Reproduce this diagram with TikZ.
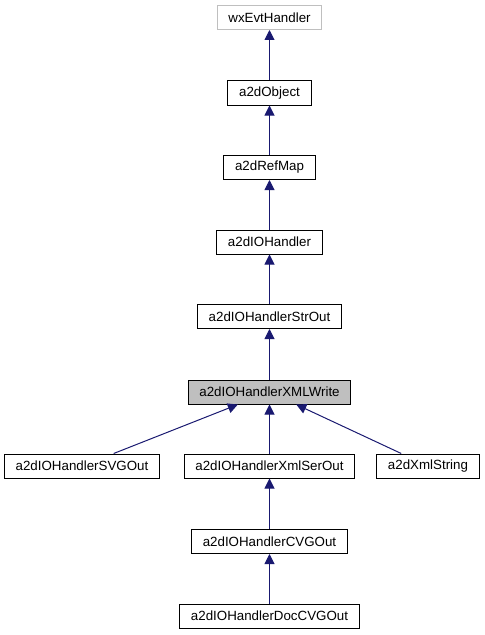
\documentclass[tikz,border=0pt]{standalone}
\usepackage{fontspec}
\setmainfont{Liberation Sans}
\usetikzlibrary{arrows.meta}
\definecolor{kante}{RGB}{25,25,112}
\definecolor{grau}{RGB}{191,191,191}
\definecolor{aktiv}{RGB}{191,191,191}
\tikzset{
	klasse/.style={draw, line width=0.75pt, fill=white, font=\fontsize{10pt}{12pt}\selectfont,
		inner xsep=8.5pt, inner ysep=0pt, minimum height=18pt},
	erbt/.style={draw=kante, line width=0.75pt, -{Triangle[length=7.5pt,width=7.5pt]}}
}
\begin{document}
\begin{tikzpicture}[x=0.75pt, y=-0.75pt]
\useasboundingbox (0,0) rectangle (485,635);
% Klassen:
	\node [klasse, draw=grau] (wxevt) at (269.5,17.5) {wxEvtHandler};
	\node [klasse] (obj) at (269.5,93) {a2dObject};
	\node [klasse] (refmap) at (269.5,167.5) {a2dRefMap};
	\node [klasse] (io) at (269.5,242) {a2dIOHandler};
	\node [klasse] (strout) at (269.5,316.5) {a2dIOHandlerStrOut};
	\node [klasse, fill=aktiv] (xmlw) at (269.5,392) {a2dIOHandlerXMLWrite};
	\node [klasse] (svg) at (82,466) {a2dIOHandlerSVGOut};
	\node [klasse] (xmlser) at (269.5,466) {a2dIOHandlerXmlSerOut};
	\node [klasse] (xmlstr) at (428,466) {a2dXmlString};
	\node [klasse] (cvg) at (269.5,541.5) {a2dIOHandlerCVGOut};
	\node [klasse] (doccvg) at (269.5,616) {a2dIOHandlerDocCVGOut};
% Vererbung:
	\draw [erbt] (obj) -- (wxevt);
	\draw [erbt] (refmap) -- (obj);
	\draw [erbt] (io) -- (refmap);
	\draw [erbt] (strout) -- (io);
	\draw [erbt] (xmlw) -- (strout);
	\draw [erbt] (svg) -- (xmlw);
	\draw [erbt] (xmlser) -- (xmlw);
	\draw [erbt] (xmlstr) -- (xmlw);
	\draw [erbt] (cvg) -- (xmlser);
	\draw [erbt] (doccvg) -- (cvg);
\end{tikzpicture}
\end{document}
